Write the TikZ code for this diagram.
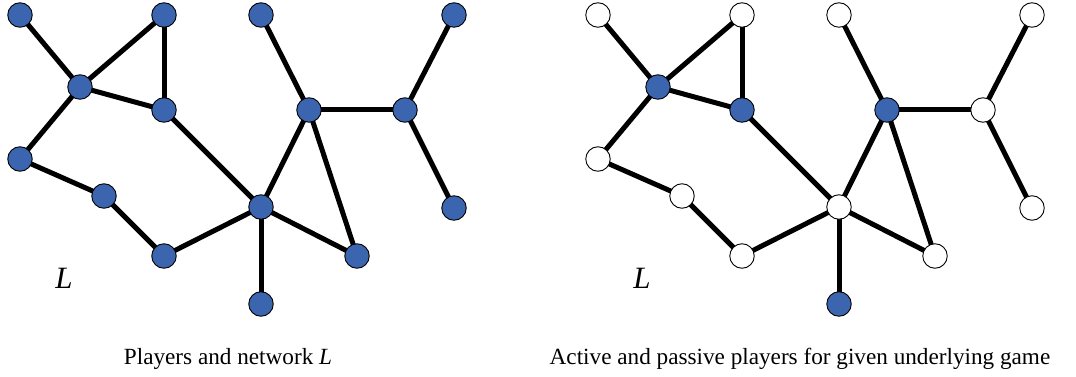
\documentclass[tikz,border=0pt]{standalone}
\usepackage{fontspec}
\setmainfont{Liberation Serif}
\usetikzlibrary{backgrounds}
\definecolor{nodeblue}{RGB}{59,101,174}
\tikzset{
  pl/.style={circle,draw=black,line width=0.9pt,fill=nodeblue,minimum size=24.5pt,inner sep=0pt},
  pas/.style={pl,fill=white},
  edge/.style={line width=5pt,black},
  captext/.style={font=\fontsize{23.2}{27}\selectfont,anchor=base},
  lbl/.style={font=\fontsize{31}{36}\selectfont\itshape}
}
\begin{document}
\begin{tikzpicture}[x=1pt,y=-1pt]
\useasboundingbox (0,0) rectangle (1076,377);
% left graph
\begin{scope}[name prefix=A-]
\node[pl] (a) at (20,15) {};
\node[pl] (b) at (164,15) {};
\node[pl] (c) at (261,15) {};
\node[pl] (d) at (454,15) {};
\node[pl] (e) at (80,87) {};
\node[pl] (f) at (164,110) {};
\node[pl] (g) at (309,110) {};
\node[pl] (h) at (405,110) {};
\node[pl] (i) at (20,159) {};
\node[pl] (j) at (104,196) {};
\node[pl] (k) at (261,207) {};
\node[pl] (l) at (454,208) {};
\node[pl] (m) at (164,256) {};
\node[pl] (n) at (357,256) {};
\node[pl] (o) at (261,304) {};
\node[lbl] (L) at (64,278) {L};
\begin{scope}[on background layer]
\foreach \u/\v in {a/e,e/b,e/f,b/f,e/i,i/j,j/m,m/k,f/k,k/g,k/n,k/o,g/n,g/c,g/h,h/d,h/l}
  \draw[edge] (\u.center) -- (\v.center);
\end{scope}
\end{scope}
% right graph
\begin{scope}[name prefix=B-, xshift=578pt]
\node[pas] (a) at (20,15) {};
\node[pas] (b) at (164,15) {};
\node[pas] (c) at (261,15) {};
\node[pas] (d) at (454,15) {};
\node[pl] (e) at (80,87) {};
\node[pl] (f) at (164,110) {};
\node[pl] (g) at (309,110) {};
\node[pas] (h) at (405,110) {};
\node[pas] (i) at (20,159) {};
\node[pas] (j) at (104,196) {};
\node[pas] (k) at (261,207) {};
\node[pas] (l) at (454,208) {};
\node[pas] (m) at (164,256) {};
\node[pas] (n) at (357,256) {};
\node[pl] (o) at (261,304) {};
\node[lbl] (L) at (64,278) {L};
\begin{scope}[on background layer]
\foreach \u/\v in {a/e,e/b,e/f,b/f,e/i,i/j,j/m,m/k,f/k,k/g,k/n,k/o,g/n,g/c,g/h,h/d,h/l}
  \draw[edge] (\u.center) -- (\v.center);
\end{scope}
\end{scope}
\node[captext] (capA) at (228,364) {Players and network \textit{L}};
\node[captext] (capB) at (800,364) {Active and passive players for given underlying game};
\end{tikzpicture}
\end{document}
